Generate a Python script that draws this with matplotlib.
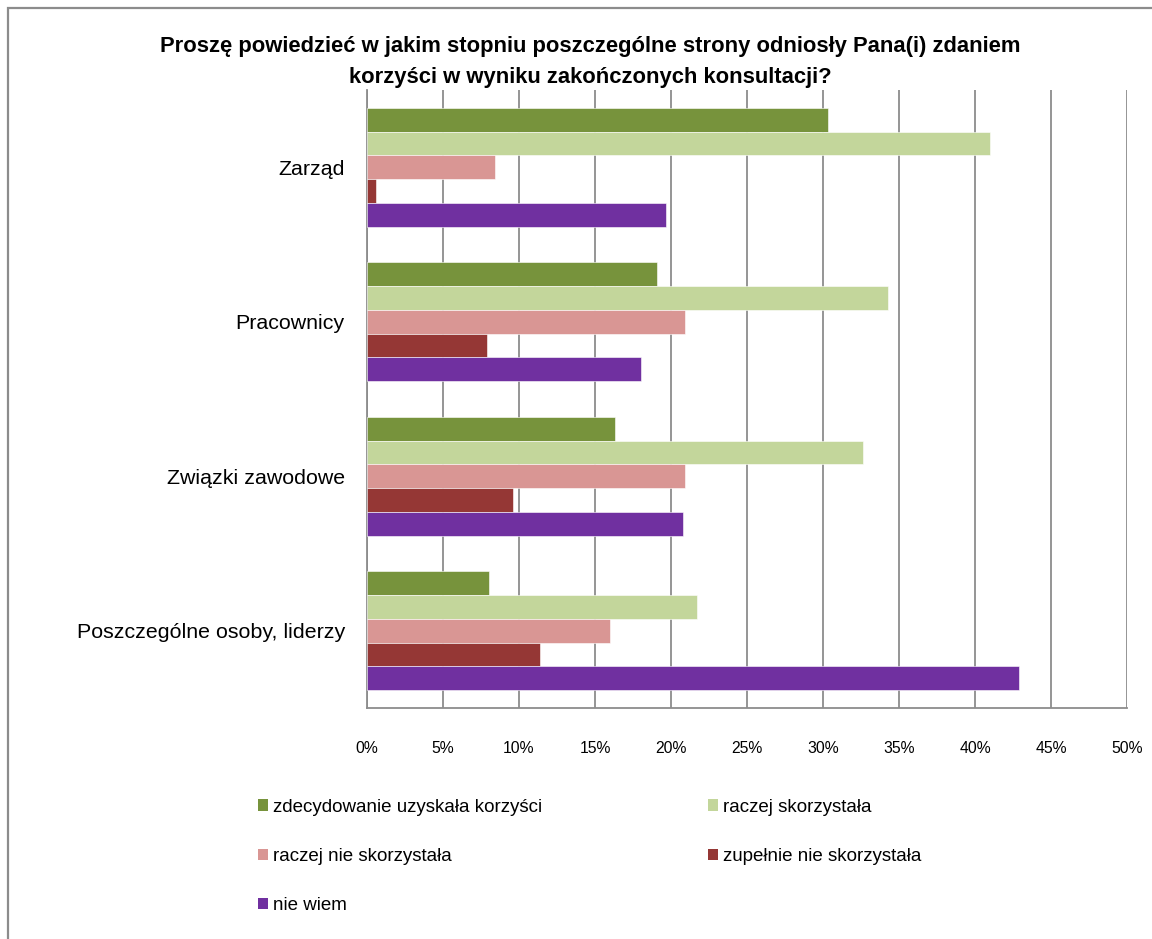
import matplotlib
matplotlib.use("Agg")
import matplotlib.pyplot as plt
import numpy as np
from matplotlib.patches import Patch, Rectangle

categories = ["Zarząd", "Pracownicy", "Związki zawodowe", "Poszczególne osoby, liderzy"]
series_names = ["zdecydowanie uzyskała korzyści", "raczej skorzystała",
                "raczej nie skorzystała", "zupełnie nie skorzystała", "nie wiem"]
values = {
    "zdecydowanie uzyskała korzyści": [30.3, 19.1, 16.3, 8.0],
    "raczej skorzystała": [41.0, 34.3, 32.6, 21.7],
    "raczej nie skorzystała": [8.4, 20.9, 20.9, 16.0],
    "zupełnie nie skorzystała": [0.6, 7.9, 9.6, 11.4],
    "nie wiem": [19.7, 18.0, 20.8, 42.9],
}
colors = ["#77933C", "#C3D69B", "#D99694", "#953735", "#7030A0"]
xticks = [0, 5, 10, 15, 20, 25, 30, 35, 40, 45, 50]
title = "Proszę powiedzieć w jakim stopniu poszczególne strony odniosły Pana(i) zdaniem\nkorzyści w wyniku zakończonych konsultacji?"

plt.rcParams['font.family'] = ['Liberation Sans', 'DejaVu Sans']

fig = plt.figure(figsize=(11.52, 9.39), dpi=100)
ax = fig.add_axes([367/1152, 1-708/939, (1127-367)/1152, (708-90)/939])

n = len(series_names)
bh = 0.767 / n
y = np.arange(len(categories))
for i, name in enumerate(series_names):
    offs = (i - (n-1)/2) * bh
    ax.barh(y + offs, values[name], height=bh, color=colors[i], label=name,
            edgecolor='white', linewidth=0.4, zorder=3)

ax.set_xlim(0, 50)
ax.set_ylim(len(categories) - 0.5, -0.5)
ax.set_xticks(xticks)
ax.set_xticklabels([f"{t}%" for t in xticks], fontsize=11.3)
ax.set_yticks(y)
ax.set_yticklabels(categories, fontsize=15.4)
ax.tick_params(axis='x', length=0, pad=24)
ax.tick_params(axis='y', length=0, pad=16)
ax.grid(axis='x', color='#8C8C8C', linewidth=1.3, zorder=0)
for s in ['top', 'right']:
    ax.spines[s].set_visible(False)
for s in ['left', 'bottom']:
    ax.spines[s].set_color('#8C8C8C')
    ax.spines[s].set_linewidth(1.3)

fig.text(590/1152, 1-62/939, title, ha='center', va='center', fontsize=15.8,
         fontweight='bold', linespacing=1.65)

# border
fig.add_artist(Rectangle((8/1152, -0.05), 1.2, 1-8/939+0.05, transform=fig.transFigure,
                         fill=False, edgecolor='#8C8C8C', linewidth=1.6))

handles = [Patch(facecolor=c) for c in colors]
order = [0, 2, 4, 1, 3]
leg = fig.legend([handles[i] for i in order], [series_names[i] for i in order],
                 ncol=2, loc='upper left', bbox_to_anchor=(252/1152, 1-793/939),
                 frameon=False, fontsize=13.5, handlelength=0.55, handleheight=0.55,
                 handletextpad=0.25, labelspacing=1.72, columnspacing=8.85,
                 borderaxespad=0, borderpad=0.3)

fig.savefig("out.png", dpi=100)
